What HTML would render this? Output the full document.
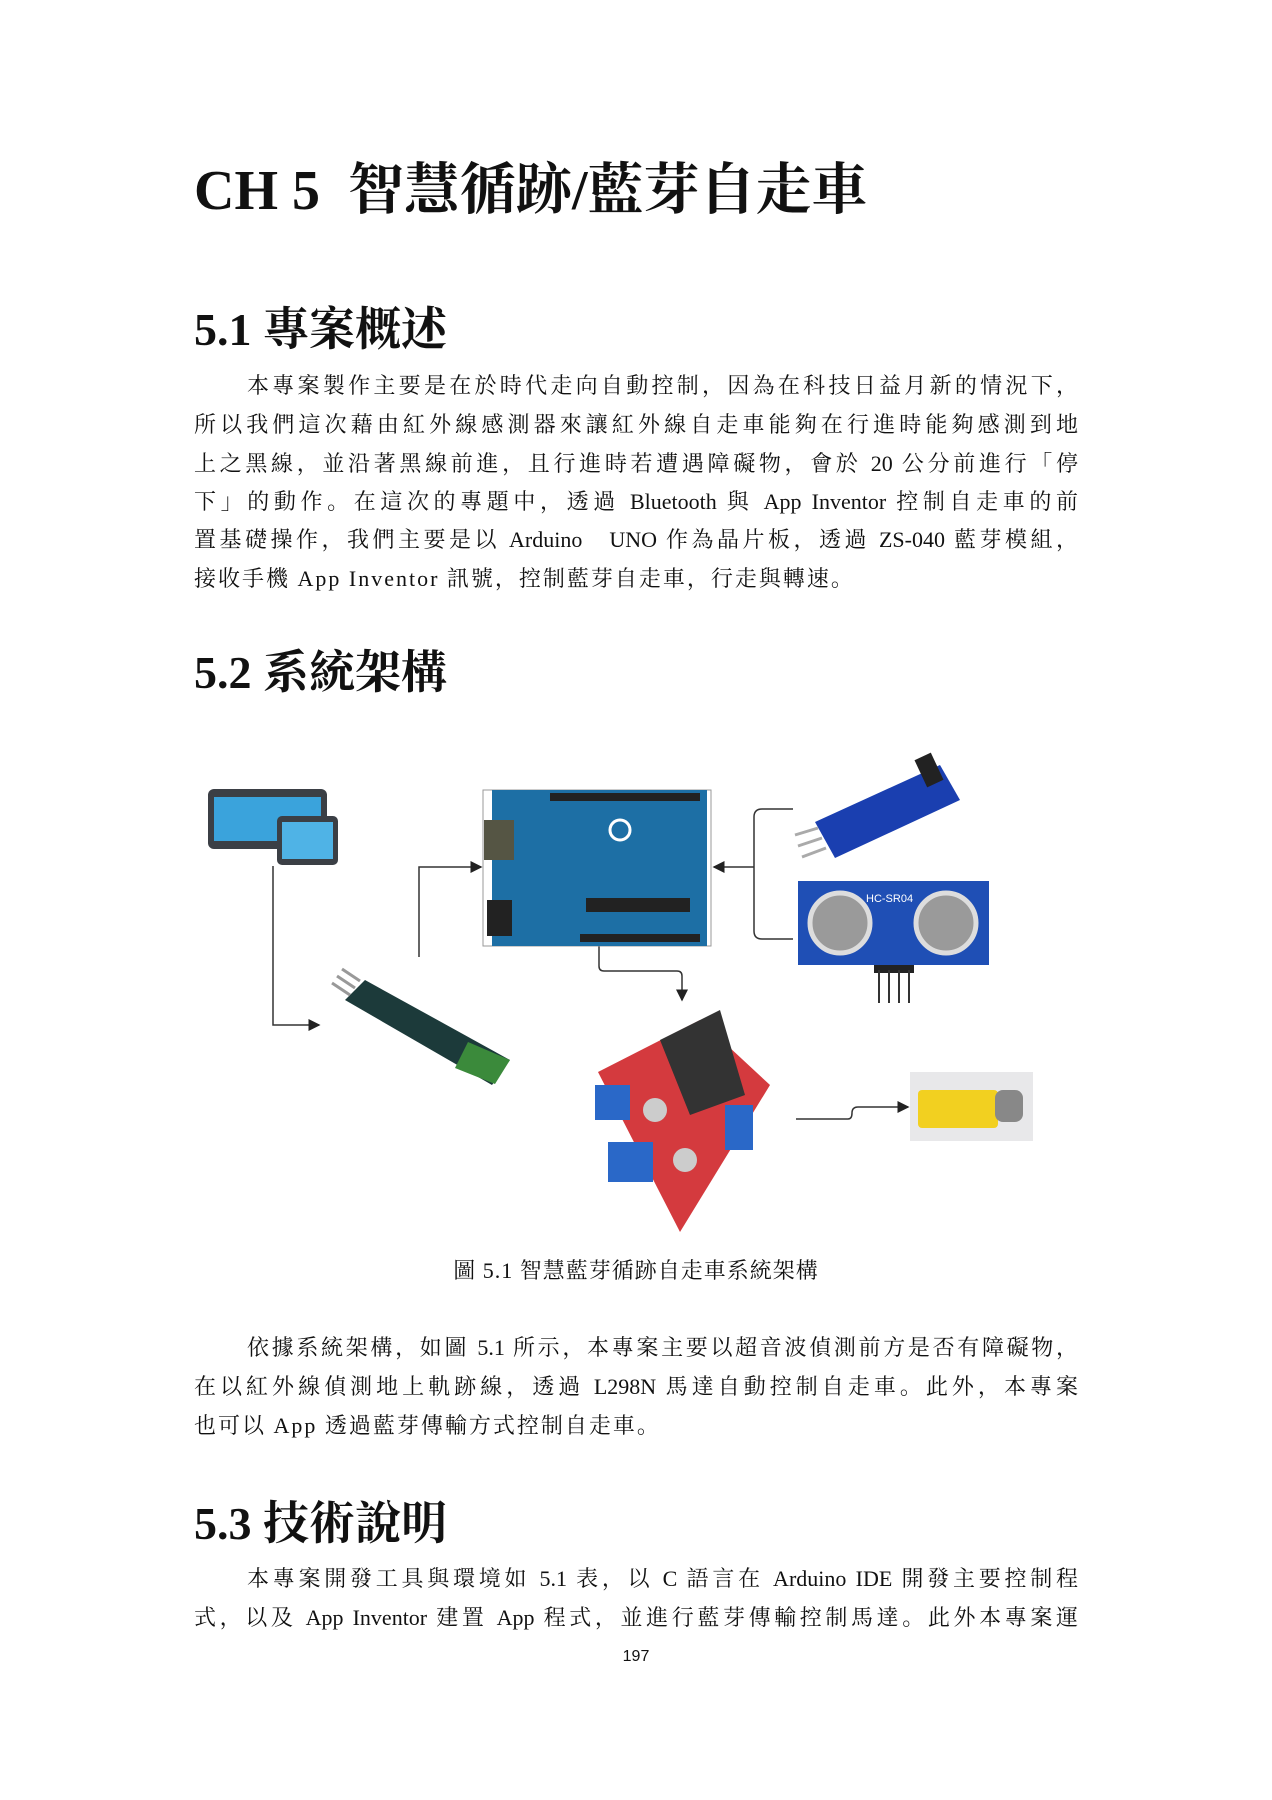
<!DOCTYPE html>
<html><head><meta charset="utf-8">
<style>
html,body{margin:0;padding:0;background:#fff;}
body{width:1272px;height:1800px;position:relative;overflow:hidden;font-family:"Liberation Serif","Noto Serif CJK SC",serif;color:#111;}
.h{position:absolute;left:194px;font-weight:bold;white-space:nowrap;font-family:"Liberation Serif","Noto Serif CJK SC",serif;}
.l{position:absolute;left:194px;width:884px;font-size:22px;line-height:30px;text-align:justify;text-align-last:justify;white-space:nowrap;}
.l.last{text-align-last:left;}
.ind{padding-left:53px;width:831px;}
</style></head><body>
<div class="h" style="top:146px;font-size:56px;">CH 5&nbsp; 智慧循跡/藍芽自走車</div>
<div class="h" style="top:293px;font-size:46px;">5.1 專案概述</div>
<div class="l ind" style="top:371px;">本專案製作主要是在於時代走向自動控制，因為在科技日益月新的情況下，</div>
<div class="l" style="top:410px;">所以我們這次藉由紅外線感測器來讓紅外線自走車能夠在行進時能夠感測到地</div>
<div class="l" style="top:449px;">上之黑線，並沿著黑線前進，且行進時若遭遇障礙物，會於 20 公分前進行「停</div>
<div class="l" style="top:487px;">下」的動作。在這次的專題中，透過 Bluetooth 與 App Inventor 控制自走車的前</div>
<div class="l" style="top:525px;">置基礎操作，我們主要是以 Arduino&nbsp;&nbsp; UNO 作為晶片板，透過 ZS-040 藍芽模組，</div>
<div class="l last" style="top:564px;letter-spacing:2px;">接收手機 App Inventor 訊號，控制藍芽自走車，行走與轉速。</div>
<div class="h" style="top:636px;font-size:46px;">5.2 系統架構</div>

<svg style="position:absolute;left:0;top:0" width="1272" height="1800">
<defs><marker id="a" markerWidth="8" markerHeight="8" refX="7" refY="4" orient="auto"><path d="M0,0 L8,4 L0,8z" fill="#222"/></marker></defs>
<g stroke="#333" stroke-width="1.5" fill="none">
<path d="M273,866 V1025 H319" marker-end="url(#a)"/>
<path d="M419,957 V867 H481" marker-end="url(#a)"/>
<path d="M793,809 H762 Q754,809 754,817 V931 Q754,939 762,939 H793"/>
<path d="M754,867 H714" marker-end="url(#a)"/>
<path d="M599,946 V966 Q599,971 604,971 H677 Q682,971 682,976 V1000" marker-end="url(#a)"/>
<path d="M796,1119 H848 Q852,1119 852,1113 Q852,1107 858,1107 H908" marker-end="url(#a)"/>
</g>
<rect x="208" y="789" width="119" height="60" rx="6" fill="#3b3f45"/>
<rect x="214" y="797" width="107" height="44" fill="#3aa3dc"/>
<rect x="277" y="816" width="61" height="49" rx="5" fill="#3b3f45"/>
<rect x="282" y="822" width="51" height="37" fill="#4fb3e6"/>
<rect x="483" y="790" width="228" height="156" fill="#fff" stroke="#999"/>
<rect x="492" y="790" width="215" height="156" fill="#1d6fa5"/>
<rect x="484" y="820" width="30" height="40" fill="#554"/>
<rect x="487" y="900" width="25" height="36" fill="#222"/>
<rect x="586" y="898" width="104" height="14" fill="#222"/>
<rect x="550" y="793" width="150" height="8" fill="#222"/>
<rect x="580" y="934" width="120" height="8" fill="#222"/>
<circle cx="620" cy="830" r="10" fill="none" stroke="#fff" stroke-width="3"/>
<polygon points="815,822 940,765 960,800 835,858" fill="#1a3fb0"/>
<rect x="920" y="755" width="18" height="30" fill="#222" transform="rotate(-25 929 770)"/>
<g stroke="#aaa" stroke-width="3"><line x1="818" y1="828" x2="795" y2="835"/><line x1="822" y1="838" x2="798" y2="846"/><line x1="826" y1="848" x2="802" y2="857"/></g>
<rect x="798" y="881" width="191" height="84" fill="#1f4fb5"/>
<circle cx="840" cy="923" r="30" fill="#9a9a9a" stroke="#ddd" stroke-width="5"/>
<circle cx="946" cy="923" r="30" fill="#9a9a9a" stroke="#ddd" stroke-width="5"/>
<text x="866" y="902" font-size="11" fill="#fff" font-family="Liberation Sans,sans-serif">HC-SR04</text>
<rect x="874" y="965" width="40" height="8" fill="#222"/>
<g stroke="#333" stroke-width="2"><line x1="879" y1="970" x2="879" y2="1003"/><line x1="889" y1="970" x2="889" y2="1003"/><line x1="899" y1="970" x2="899" y2="1003"/><line x1="909" y1="970" x2="909" y2="1003"/></g>
<polygon points="345,1000 365,980 510,1060 492,1085" fill="#1c3a3a"/>
<polygon points="468,1042 510,1060 495,1084 455,1068" fill="#3b8a3b"/>
<g stroke="#999" stroke-width="3"><line x1="350" y1="995" x2="332" y2="983"/><line x1="355" y1="988" x2="337" y2="976"/><line x1="360" y1="981" x2="342" y2="969"/></g>
<polygon points="598,1072 700,1020 770,1085 680,1232" fill="#d43a3e"/>
<polygon points="660,1040 720,1010 745,1095 690,1115" fill="#333"/>
<rect x="595" y="1085" width="35" height="35" fill="#2a68c8"/>
<rect x="608" y="1142" width="45" height="40" fill="#2a68c8"/>
<rect x="725" y="1105" width="28" height="45" fill="#2a68c8"/>
<circle cx="655" cy="1110" r="12" fill="#ccc"/><circle cx="685" cy="1160" r="12" fill="#ccc"/>
<rect x="910" y="1072" width="123" height="69" fill="#e8e8ea"/>
<rect x="918" y="1090" width="80" height="38" rx="4" fill="#f2d020"/>
<rect x="995" y="1090" width="28" height="32" rx="8" fill="#888"/>
</svg>

<div style="position:absolute;top:1254px;left:0;width:1272px;text-align:center;font-size:22px;letter-spacing:1px;">圖 5.1 智慧藍芽循跡自走車系統架構</div>
<div class="l ind" style="top:1333px;">依據系統架構，如圖 5.1 所示，本專案主要以超音波偵測前方是否有障礙物，</div>
<div class="l" style="top:1372px;">在以紅外線偵測地上軌跡線，透過 L298N 馬達自動控制自走車。此外，本專案</div>
<div class="l last" style="top:1411px;letter-spacing:2px;">也可以 App 透過藍芽傳輸方式控制自走車。</div>
<div class="h" style="top:1487px;font-size:46px;">5.3 技術說明</div>
<div class="l ind" style="top:1564px;">本專案開發工具與環境如 5.1 表，以 C 語言在 Arduino IDE 開發主要控制程</div>
<div class="l" style="top:1603px;">式，以及 App Inventor 建置 App 程式，並進行藍芽傳輸控制馬達。此外本專案運</div>
<div style="position:absolute;top:1648px;left:0;width:1272px;text-align:center;font-size:16px;font-family:'Liberation Sans',sans-serif;">197</div>
</body></html>
